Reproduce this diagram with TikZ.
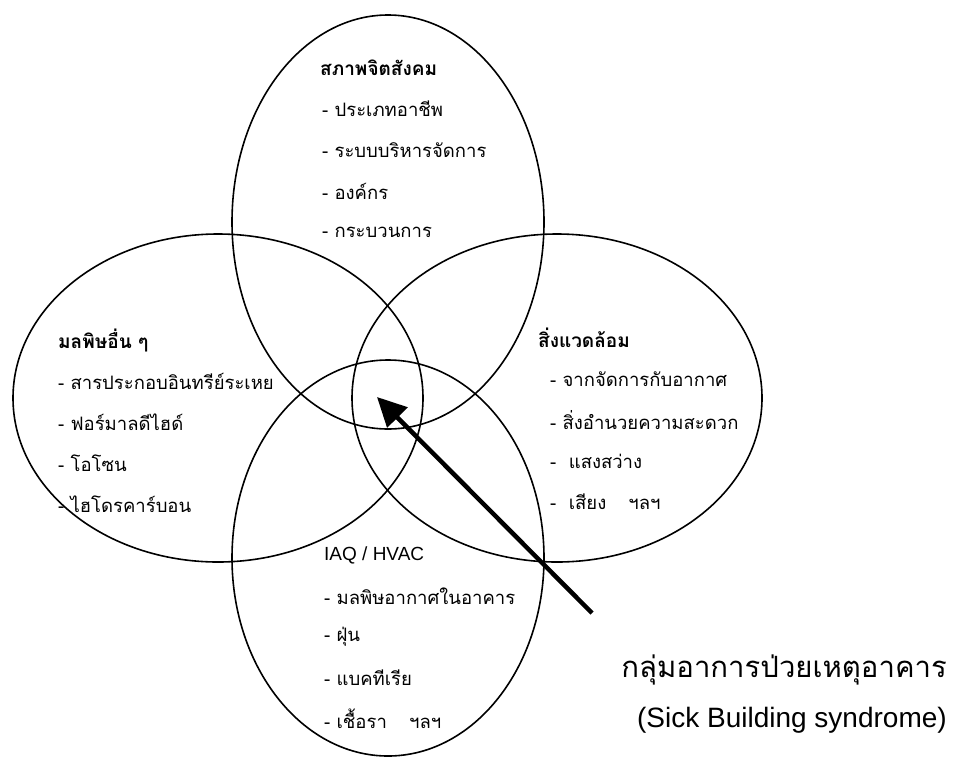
\documentclass[tikz,border=0pt]{standalone}
\usepackage{fontspec}
\setmainfont{Liberation Sans}
\newfontfamily\thaifont[Script=Thai]{Loma}
\usetikzlibrary{shapes.geometric,arrows.meta}
\tikzstyle{blob}=[draw,ellipse,line width=1.6pt,inner sep=0pt,outer sep=0pt]
\tikzstyle{item}=[anchor=west,inner sep=0pt,font=\thaifont\fontsize{18.5}{20}\selectfont]
\tikzstyle{head}=[anchor=west,inner sep=0pt,font=\thaifont\bfseries\fontsize{19}{21}\selectfont]
\tikzstyle{pointer}=[-{Triangle[length=29pt,width=28pt]},line width=4.5pt]
\newcommand{\drawitems}[4]{
  \foreach \t [count=\i] in {#4} {
    \node[item] (#1\i) at (#2,{#3+41*\i}) {\t};
  }
}

\begin{document}
\begin{tikzpicture}[x=1pt,y=-1pt]
	\useasboundingbox (0,0) rectangle (953,769);
	% the four groups
	\node[blob,minimum width=312pt,minimum height=414pt] (psy) at (388,222) {};
	\node[blob,minimum width=410pt,minimum height=328pt] (poll) at (218,398) {};
	\node[blob,minimum width=410pt,minimum height=328pt] (env) at (557,398) {};
	\node[blob,minimum width=312pt,minimum height=396pt] (iaq) at (388,558) {};
	% top
	\node[head] (psyhead) at (320,68) {สภาพจิตสังคม};
	\drawitems{psy}{322}{68}{- ประเภทอาชีพ,- ระบบบริหารจัดการ,- องค์กร,- กระบวนการ}
	% left
	\node[head] (pollhead) at (58,340) {มลพิษอื่น ๆ};
	\drawitems{poll}{58}{340}{- สารประกอบอินทรีย์ระเหย,- ฟอร์มาลดีไฮด์,- โอโซน,- ไฮโดรคาร์บอน}
	% right
	\node[head] (envhead) at (538,338) {สิ่งแวดล้อม};
	\drawitems{env}{550}{338}{- จากจัดการกับอากาศ,- สิ่งอำนวยความสะดวก,-\ \ แสงสว่าง,-\ \ เสียง\hspace{1.2em}ฯลฯ}
	% bottom
	\node[anchor=west,inner sep=0pt,font=\fontsize{19}{21}\selectfont] (iaqhead) at (324,555) {IAQ / HVAC};
	\drawitems{iaq}{324}{555}{- มลพิษอากาศในอาคาร,- ฝุ่น,- แบคทีเรีย,- เชื้อรา\hspace{1.2em}ฯลฯ}
	% caption and pointer
	\node[anchor=east,inner sep=0pt,font=\thaifont\fontsize{29.3}{31}\selectfont] (sbs) at (947,670) {กลุ่มอาการป่วยเหตุอาคาร};
	\node[anchor=east,inner sep=0pt,font=\fontsize{28}{30}\selectfont] (sbsen) at (947,720) {(Sick Building syndrome)};
	\coordinate (tail) at (592,613);
	\coordinate (core) at (377,397);
	\draw[pointer] (tail) -- (core);
\end{tikzpicture}
\end{document}
